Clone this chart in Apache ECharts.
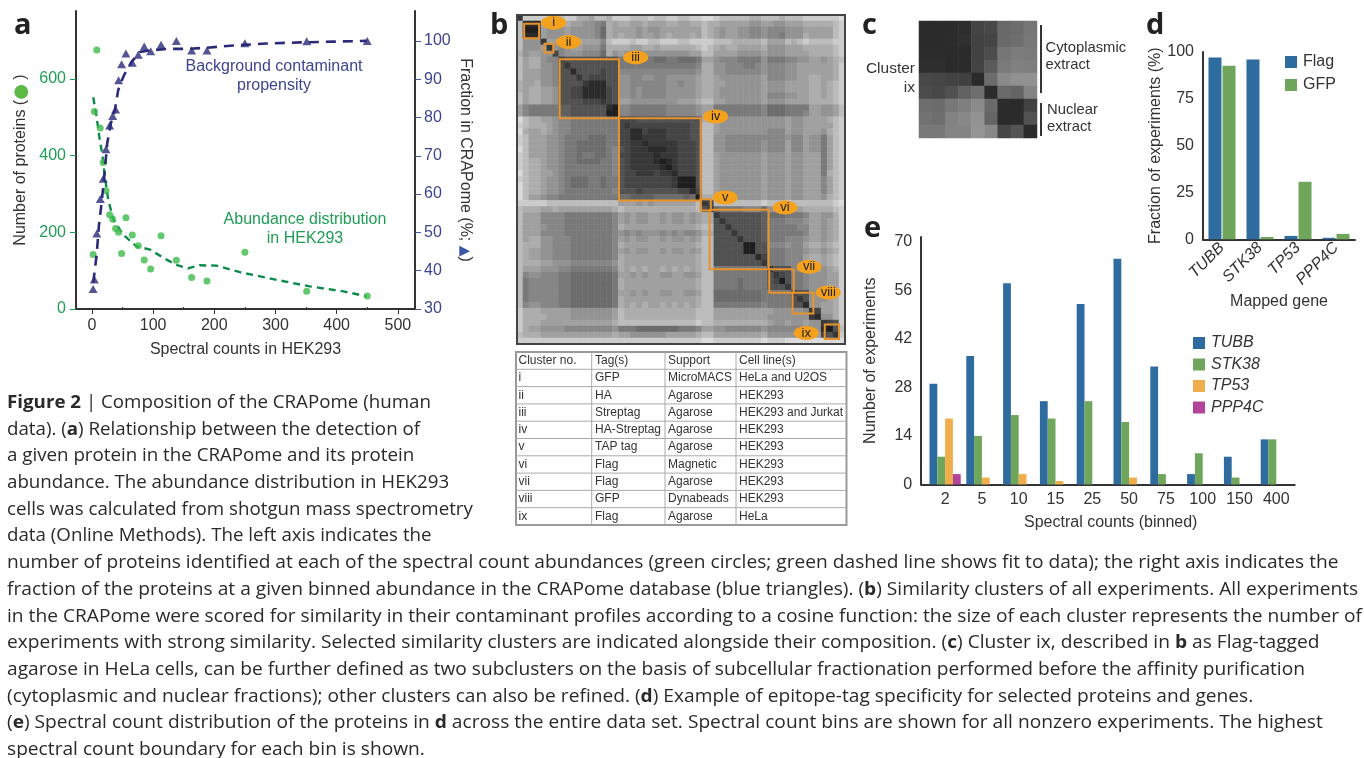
<!DOCTYPE html>
<html><head><meta charset="utf-8">
<style>html,body{margin:0;padding:0;background:#fff}#c{width:1364px;height:758px}</style>
<script src="https://cdn.jsdelivr.net/npm/echarts@6/dist/echarts.min.js"></script>
</head><body><div id="c"></div>
<script>
// Panel a
const spectralX=[2,4,8,13.6,18.5,23,29,34,38.7,43.6,48.5,55.6,66,75.7,85.5,96,113,138,163,188,250,351,450];
const proteinCounts=[142,515,675,472,382,308,246,234,210,200,145,238,193,165,128,104,191,127,82,73,148,46,34];
const crapomePct=[35.2,37.7,49.7,58.7,64,71.7,77.9,80.4,82.1,89.7,93.9,96.7,94.3,96.4,98.5,97.3,99,100,97.5,97.5,99.4,99.9,100];
const greenFit=[[2.2,552],[7.6,502],[12,450],[17.4,398],[21,346],[26.7,285],[35,233],[51,194],[73,163],[95,155],[117,133],[138,115],[157,106],[176,114],[204,113],[242,96],[302,76],[356,59],[411,46],[449,33]];
const blueFit=[[2.2,36.9],[7.6,43.9],[11.4,51.7],[15.8,57.7],[20.2,64.6],[25,73.3],[31,78.5],[37.6,82],[43,87.2],[52.3,91],[64.8,94.5],[78.4,97.1],[94.8,97.5],[122,97.9],[154.7,97.9],[187.4,98.2],[231,98.8],[285,99.3],[340,99.6],[394,99.8],[449,100]];
// Panel b: similarity read by eye, one hex digit per cell (0 light, f dark)
const cellRows=[
"d 222 222 3224453342 22333233223322 11 233333443 3343 332 22 222 1",
"3 eee 455 5455667845 44554555445544 34 455555665 5665 554 44 443 2",
"3 fff 566 6566667945 55565665555555 34 565566776 7776 665 55 553 2",
"3 eee 566 6566667945 45565565455545 34 565566776 7786 664 55 553 2",
"3 666 d55 6544555732 22322332223322 22 333444443 5553 432 33 332 2",
"3 666 5d6 7655666844 44554454444443 23 454455554 6665 554 44 443 2",
"4 655 66c 7666777946 56676666666655 33 555566665 6665 555 44 443 2",
"3 544 677 cbbbbbbbbb 88998899889998 55 677788886 8887 766 55 654 3",
"3 544 667 bdbbbbbbbb 88888888888887 44 667778876 7776 655 55 554 2",
"3 555 667 bbebbbbcbb 77777777777776 44 667777776 7776 655 55 554 2",
"3 555 667 bbbdbcccbb 66776677666665 44 566666665 7776 655 44 554 2",
"4 554 667 bbbbdeeebb 66777777667665 44 556666665 6665 555 44 543 2",
"4 544 556 bbcceeeecb 66767777666665 44 566666665 6665 555 44 543 2",
"3 544 556 bbcceeeecb 66767777666665 44 566666665 7776 655 44 543 2",
"3 544 556 bbbbcccdcb 55666666665554 33 556666665 6665 555 44 443 2",
"5 788 888 aabbbbbbef 77888888777776 55 888888887 9998 888 55 665 3",
"5 788 888 aabbbbbbff 77888888777776 55 888888887 9998 887 55 665 3",
"1 344 556 7788888888 cccbbbbbbbbbbb 44 566666666 6665 665 55 543 2",
"2 344 456 7788888888 cdccccccccccbb 33 566666666 6665 665 55 553 2",
"1 455 456 7788888888 cceecdddccccbb 33 566666666 7775 665 55 643 2",
"2 355 566 7888899988 cceeddddccccbb 33 667777777 7776 775 66 853 2",
"2 355 566 7889999988 ccddedddddcccb 33 667777776 7775 775 66 853 2",
"1 355 566 7889999987 bcdddeeeddcccb 33 667777776 7775 775 66 853 2",
"2 355 566 7889889987 ccddddedddcccb 33 566666665 6665 665 55 853 2",
"2 344 566 7889999887 bcddddefedcccb 33 566666665 6665 665 55 853 2",
"2 344 566 7888888887 bcdddddefdcccb 33 566666665 6665 665 55 853 2",
"1 344 556 7888888887 bccdddcddecccb 33 566666665 6665 665 55 843 2",
"2 344 566 7899988988 bccccccccdfffb 33 566666665 6665 665 55 753 2",
"1 344 566 7899988988 bccccccccdfffb 33 566666665 6665 665 55 753 2",
"1 344 566 7888888887 bbbcbbbbbbccec 33 566666665 6665 665 55 753 2",
"1 355 677 8888888888 99aaaa99999a9f 44 566666665 6665 665 55 643 2",
"2 222 233 3333333333 55565655555553 dc 333333332 3332 333 33 332 1",
"3 444 554 5555555554 34444444444443 bd 988887779 6665 654 44 443 2",
"3 555 777 7888888887 56566556566565 44 dbbbbbbba 9998 887 55 664 2",
"3 555 777 7888888887 56566556566565 44 bdbbbbbba 8887 776 55 654 2",
"3 555 677 7888888887 45555555555554 33 bbdbbbbba 8888 877 55 654 2",
"3 555 777 7888888887 67676667676776 44 bbbdbbbba 8888 887 55 654 2",
"3 544 667 7788888887 56566556566565 33 bbbbdbbba 8887 776 55 654 2",
"3 444 667 7788888887 45555555555554 33 bbbbbffbb 7776 775 44 543 2",
"3 455 667 7788888887 56566556566565 33 bbbbbffbb 8887 776 55 654 2",
"3 455 667 7788888887 45555555555554 33 bbbbbbbec 8887 775 44 543 2",
"3 444 556 6677777776 45555555555554 33 bbbbbbbbd 8887 776 44 543 2",
"3 555 666 7788888887 45454554545454 33 888888888 dbbb 776 55 654 2",
"3 766 777 8899999998 55656556655665 33 888888888 bdcb 887 66 655 2",
"3 877 777 8899999998 45555555555554 33 888898888 bcfb 887 66 655 2",
"3 877 777 8899999998 45555555555554 33 888898888 bbbd 887 66 655 2",
"3 877 777 8899999998 55656556655665 33 999999998 8888 cbb 66 554 2",
"3 877 777 8899999998 45555555555554 33 999999998 8888 bdb 66 654 2",
"3 766 777 8899999998 45454554545454 33 888888887 8888 bbe 66 554 2",
"2 444 555 5566666665 34444444444443 33 555555555 5666 667 dc 554 2",
"2 444 455 5566666665 34444444444443 33 555555555 6666 666 de 664 2",
"2 444 555 5555555554 33333333333332 33 444444444 5665 665 66 dcb 2",
"2 455 666 6777777776 88899999998887 55 667777776 7777 776 66 efb 3",
"3 444 555 5555555554 55666666555554 33 555555554 6666 665 55 cbd 2",
"2 222 222 2222222222 22222222222222 11 222222221 2221 111 11 111 1"];
const clusterBoxes=[[1.2,3.7,1.45,3.9],[4.6,6.1,4.8,6.3],[7.15,17.1,7.4,17.25],[17.1,30.8,17.25,31],[30.8,32.5,30.8,32.7],[32.3,42.2,32.55,42.5],[42.3,46.4,42.5,46.45],[46.2,49.7,46.45,49.9],[51.6,54,51.75,54.15]];
const clusterTags=[[6.14,1.28,"i"],[8.65,4.52,"ii"],[19.9,7.09,"iii"],[33.3,16.97,"iv"],[34.9,30.5,"v"],[44.95,32.2,"vi"],[48.97,42.1,"vii"],[52.2,46.4,"viii"],[48.5,53.15,"ix"]];
const tableRows=[["Cluster no.","Tag(s)","Support","Cell line(s)"],["i","GFP","MicroMACS","HeLa and U2OS"],["ii","HA","Agarose","HEK293"],["iii","Streptag","Agarose","HEK293 and Jurkat"],["iv","HA-Streptag","Agarose","HEK293"],["v","TAP tag","Agarose","HEK293"],["vi","Flag","Magnetic","HEK293"],["vii","Flag","Agarose","HEK293"],["viii","GFP","Dynabeads","HEK293"],["ix","Flag","Agarose","HeLa"]];
// Panel c: grey level per cell
const ixGrey=[
[0x2b,0x2b,0x2b,0x2e,0x44,0x48,0x68,0x6c,0x76],
[0x2b,0x2b,0x2c,0x30,0x42,0x44,0x6a,0x6e,0x78],
[0x2c,0x2c,0x2b,0x2b,0x42,0x4c,0x76,0x7c,0x7a],
[0x2e,0x2e,0x2b,0x2b,0x44,0x5a,0x7a,0x80,0x7e],
[0x48,0x46,0x42,0x40,0x2b,0x6c,0x8a,0x90,0x92],
[0x4c,0x48,0x50,0x62,0x6e,0x2b,0x6a,0x64,0x84],
[0x6e,0x6c,0x78,0x7e,0x8a,0x6a,0x2b,0x2b,0x42],
[0x72,0x6e,0x82,0x88,0x92,0x64,0x2b,0x2b,0x52],
[0x78,0x78,0x84,0x84,0x94,0x88,0x46,0x54,0x2b]];
// Panel d
const genes=["TUBB","STK38","TP53","PPP4C"];
const flagPct=[97,96,1.8,0.8];
const gfpPct=[92.7,1.2,30.7,2.9];
// Panel e
const bins=["2","5","10","15","25","50","75","100","150","400"];
const tubbExp=[29,37,58,24,52,65,34,3,8,13];
const stk38Exp=[8,14,20,19,24,18,3,9,2,13];
const tp53Exp=[19,2,3,1,0,2,0,0,0,0];
const ppp4cExp=[3,0,0,0,0,0,0,0,0,0];
const captionLines=[
"{b|Figure 2} | Composition of the CRAPome (human",
"data). ({b|a}) Relationship between the detection of",
"a given protein in the CRAPome and its protein",
"abundance. The abundance distribution in HEK293",
"cells was calculated from shotgun mass spectrometry",
"data (Online Methods). The left axis indicates the",
"number of proteins identified at each of the spectral count abundances (green circles; green dashed line shows fit to data); the right axis indicates the",
"fraction of the proteins at a given binned abundance in the CRAPome database (blue triangles). ({b|b}) Similarity clusters of all experiments. All experiments",
"in the CRAPome were scored for similarity in their contaminant profiles according to a cosine function: the size of each cluster represents the number of",
"experiments with strong similarity. Selected similarity clusters are indicated alongside their composition. ({b|c}) Cluster ix, described in {b|b} as Flag-tagged",
"agarose in HeLa cells, can be further defined as two subclusters on the basis of subcellular fractionation performed before the affinity purification",
"(cytoplasmic and nuclear fractions); other clusters can also be refined. ({b|d}) Example of epitope-tag specificity for selected proteins and genes.",
"({b|e}) Spectral count distribution of the proteins in {b|d} across the entire data set. Spectral count bins are shown for all nonzero experiments. The highest",
"spectral count boundary for each bin is shown."];

const SANS='"Liberation Sans",Arial,sans-serif', CAP='"Open Sans",sans-serif';
const INK='#333', GRN='#1f9d55', NAVY='#2b2a78', NAVYT='#3d4590', ORANGE='#e8932b';
const BLUEBAR='#2e6b9f', GREENBAR='#6fa65b', ORBAR='#efae4b', MAG='#b4449a';
const zip=(a,b)=>a.map((v,i)=>[v,b[i]]);
const cellB=[];
cellRows.forEach((r,y)=>{r.replace(/ /g,'').split('').forEach((ch,x)=>cellB.push([x,y,parseInt(ch,16)]));});
const cellC=[];
ixGrey.forEach((r,y)=>r.forEach((v,x)=>cellC.push([x,y,v])));
const idx=n=>Array.from({length:n},(_,i)=>String(i));
const al=(c=INK,extra={})=>Object.assign({color:c,fontFamily:SANS,fontSize:16},extra);
const line=(c='#333',w=2)=>({show:true,onZero:false,lineStyle:{color:c,width:w}});

function txt(x,y,text,o={},el={}){return Object.assign({type:'text',x,y,z:50,silent:true,style:Object.assign({text,fill:INK,font:'16px '+SANS,textAlign:'left',textVerticalAlign:'middle'},o)},el);}
function seg(x1,y1,x2,y2,c='#333',w=2){return {type:'line',z:50,silent:true,shape:{x1,y1,x2,y2},style:{stroke:c,lineWidth:w}};}

const g=[];
[['a',14,26],['b',490,26],['c',862,26],['d',1146,26],['e',864,229]].forEach(p=>g.push(txt(p[1],p[2],p[0],{font:'bold 29px "Open Sans",sans-serif',fill:'#222'})));
g.push(txt(274,67,'Background contaminant',{textAlign:'center',fill:NAVYT}));
g.push(txt(274,86,'propensity',{textAlign:'center',fill:NAVYT}));
g.push(txt(305,220,'Abundance distribution',{textAlign:'center',fill:GRN}));
g.push(txt(305,239,'in HEK293',{textAlign:'center',fill:GRN}));
g.push({type:'rect',z:40,silent:true,shape:{x:517,y:15,width:328,height:329},style:{fill:'none',stroke:'#444',lineWidth:2}});
// table
const rowTop=352,rowH=17.3,colX=[516,591.7,665,736,846.5],colT=[518.5,595,668,739];
g.push({type:'rect',z:40,silent:true,shape:{x:516,y:rowTop,width:330.5,height:rowH*10},style:{fill:'none',stroke:'#999',lineWidth:2}});
for(let i=1;i<10;i++)g.push(seg(516,rowTop+rowH*i,846.5,rowTop+rowH*i,'#aaa',1));
for(let i=1;i<4;i++)g.push(seg(colX[i],rowTop,colX[i],rowTop+rowH*10,'#aaa',1));
tableRows.forEach((r,i)=>r.forEach((t,j)=>g.push(txt(colT[j],rowTop+rowH*(i+.5),t,{font:'12px '+SANS}))));
// panel c annotations
g.push(txt(915,69,'Cluster',{textAlign:'right',font:'15.5px '+SANS}));
g.push(txt(915,88,'ix',{textAlign:'right',font:'15.5px '+SANS}));
g.push(seg(1041,25,1041,93));
g.push(seg(1041,103,1041,136));
g.push(txt(1045.5,48,'Cytoplasmic',{font:'14.8px '+SANS}));
g.push(txt(1045.5,65,'extract',{font:'14.8px '+SANS}));
g.push(txt(1047,110,'Nuclear',{font:'14.8px '+SANS}));
g.push(txt(1047,127,'extract',{font:'14.8px '+SANS}));
// axis joins
g.push(seg(920.5,485,927,485));
// caption
captionLines.forEach((t,i)=>g.push(txt(7,403+26.7*i,t,{font:'17.5px '+CAP,fill:'#2a2a2a',rich:{b:{fontFamily:CAP,fontSize:17.5,fontWeight:'bold',fill:'#2a2a2a'}}},{scaleX:i<6?1.07:1.095})));

const option={
 animation:false,backgroundColor:'#fff',
 grid:[
  {left:76,top:11,width:339,height:298},
  {left:1203,top:52,width:152,height:187.3},
  {left:926.7,top:237,width:368,height:247.5},
  {left:517,top:15,width:328,height:329},
  {left:517,top:15,width:328,height:329},
  {left:919,top:21,width:118,height:117}],
 xAxis:[
  {type:'value',gridIndex:0,min:-26,max:528,axisLine:line(),splitLine:{show:false},
   axisTick:{customValues:[0,100,200,300,400,500],length:5,lineStyle:{color:'#333'}},
   axisLabel:{customValues:[0,100,200,300,400,500],margin:9,...al()},
   name:'Spectral counts in HEK293',nameLocation:'middle',nameGap:33,nameTextStyle:al()},
  {type:'value',gridIndex:0,min:-26,max:528,axisLine:{show:false},splitLine:{show:false},
   axisTick:{customValues:[50,150,250,350,450],length:2,lineStyle:{color:'#333'}},axisLabel:{show:false}},
  {type:'category',gridIndex:1,data:genes,axisLine:line(),axisTick:{show:false},
   axisLabel:{rotate:45,interval:0,margin:6,...al(INK,{fontStyle:'italic'})},
   name:'Mapped gene',nameLocation:'middle',nameGap:54,nameTextStyle:al()},
  {type:'category',gridIndex:2,data:bins,axisLine:line(),axisTick:{show:false},
   axisLabel:{interval:0,margin:7,...al()},
   name:'Spectral counts (binned)',nameLocation:'middle',nameGap:30,nameTextStyle:al()},
  {type:'category',gridIndex:3,data:idx(55),show:false},
  {type:'value',gridIndex:4,min:0,max:55,show:false},
  {type:'category',gridIndex:5,data:idx(9),show:false}],
 yAxis:[
  {type:'value',gridIndex:0,min:0,max:777,axisLine:line(),splitLine:{show:false},
   axisTick:{customValues:[0,200,400,600],length:6,lineStyle:{color:GRN}},
   axisLabel:{customValues:[0,200,400,600],margin:10,...al(GRN)},
   name:'{t|Number of proteins (}{c|●}{t| )}',nameLocation:'middle',nameGap:46,
   nameTextStyle:{rich:{t:al(),c:{color:'#5cb947',fontSize:18,fontFamily:'DejaVu Sans'}}}},
  {type:'value',gridIndex:0,position:'right',min:30,max:107.8,axisLine:line(),splitLine:{show:false},
   axisTick:{customValues:[30,40,50,60,70,80,90,100],length:6,lineStyle:{color:'#3f55a5'}},
   axisLabel:{customValues:[30,40,50,60,70,80,90,100],margin:9,...al(NAVYT)},
   name:'{t|Fraction in CRAPome (%; }{c|▲}{t|)}',nameLocation:'middle',nameGap:42,nameRotate:-90,
   nameTextStyle:{rich:{t:al(),c:{color:'#3a55a6',fontSize:14,fontFamily:'DejaVu Sans'}}}},
  {type:'value',gridIndex:1,min:0,max:100,interval:25,axisLine:line(),splitLine:{show:false},
   axisTick:{length:5,lineStyle:{color:'#333'}},axisLabel:{margin:9,...al()},
   name:'Fraction of experiments (%)',nameLocation:'middle',nameGap:39,nameTextStyle:al()},
  {type:'value',gridIndex:2,min:0,max:71.3,offset:5.5,axisLine:line(),splitLine:{show:false},
   axisTick:{customValues:[0,14,28,42,56,70],length:5,lineStyle:{color:'#333'}},
   axisLabel:{customValues:[0,14,28,42,56,70],margin:9,...al()},
   name:'Number of experiments',nameLocation:'middle',nameGap:43,nameTextStyle:al()},
  {type:'category',gridIndex:3,data:idx(55),inverse:true,show:false},
  {type:'value',gridIndex:4,min:0,max:55,inverse:true,show:false},
  {type:'category',gridIndex:5,data:idx(9),inverse:true,show:false}],
 legend:[
  {data:['Flag','GFP'],left:1280,top:49,orient:'vertical',icon:'rect',itemWidth:12,itemHeight:12,itemGap:7,selectedMode:false,textStyle:al(INK,{padding:[0,0,0,1]})},
  {data:['TUBB','STK38','TP53','PPP4C'],left:1188,top:330,orient:'vertical',icon:'rect',itemWidth:12,itemHeight:12,itemGap:5.5,selectedMode:false,textStyle:al(INK,{fontStyle:'italic',padding:[0,0,0,1]})}],
 visualMap:[
  {show:false,type:'continuous',seriesIndex:4,dimension:2,min:0,max:15,inRange:{color:['#ebebeb','#b0b0b0','#808080','#4f4f4f','#1e1e1e']}},
  {show:false,type:'continuous',seriesIndex:7,dimension:2,min:0,max:255,inRange:{color:['#000000','#ffffff']}}],
 series:[
  {type:'line',xAxisIndex:0,yAxisIndex:0,data:greenFit,symbol:'none',z:3,lineStyle:{color:'#0e8a4c',width:2.4,type:[7,5]}},
  {type:'scatter',xAxisIndex:0,yAxisIndex:0,data:zip(spectralX,proteinCounts),symbol:'circle',symbolSize:7,z:4,itemStyle:{color:'#3dba4a'}},
  {type:'line',xAxisIndex:0,yAxisIndex:1,data:blueFit,symbol:'none',z:5,lineStyle:{color:NAVY,width:2.6,type:[10,7]}},
  {type:'scatter',xAxisIndex:0,yAxisIndex:1,data:zip(spectralX,crapomePct),symbol:'triangle',symbolSize:[9,8],z:6,itemStyle:{color:NAVY}},
  {type:'heatmap',xAxisIndex:4,yAxisIndex:4,data:cellB,progressive:0,silent:true},
  {type:'custom',xAxisIndex:5,yAxisIndex:5,data:clusterBoxes,clip:false,z:10,silent:true,encode:{x:[0,1],y:[2,3]},
   renderItem:(p,api)=>{const a=api.coord([api.value(0),api.value(2)]),b=api.coord([api.value(1),api.value(3)]);
    return {type:'rect',shape:{x:a[0],y:a[1],width:b[0]-a[0],height:b[1]-a[1]},style:{fill:'none',stroke:ORANGE,lineWidth:2}};}},
  {type:'scatter',xAxisIndex:5,yAxisIndex:5,data:clusterTags,symbol:'circle',symbolSize:[25,14],z:11,silent:true,itemStyle:{color:'#f4a21e',opacity:1},
   label:{show:true,position:'inside',formatter:p=>p.value[2],color:'#222',fontFamily:SANS,fontSize:13}},
  {type:'heatmap',xAxisIndex:6,yAxisIndex:6,data:cellC,progressive:0,silent:true},
  {type:'bar',name:'Flag',xAxisIndex:2,yAxisIndex:2,data:flagPct,barWidth:13,barGap:'8%',itemStyle:{color:BLUEBAR}},
  {type:'bar',name:'GFP',xAxisIndex:2,yAxisIndex:2,data:gfpPct,barWidth:13,itemStyle:{color:GREENBAR}},
  {type:'bar',name:'TUBB',xAxisIndex:3,yAxisIndex:3,data:tubbExp,barWidth:7.8,barGap:0,itemStyle:{color:BLUEBAR}},
  {type:'bar',name:'STK38',xAxisIndex:3,yAxisIndex:3,data:stk38Exp,barWidth:7.8,itemStyle:{color:GREENBAR}},
  {type:'bar',name:'TP53',xAxisIndex:3,yAxisIndex:3,data:tp53Exp,barWidth:7.8,itemStyle:{color:ORBAR}},
  {type:'bar',name:'PPP4C',xAxisIndex:3,yAxisIndex:3,data:ppp4cExp,barWidth:7.8,itemStyle:{color:MAG}}
 ],
 graphic:{elements:g}
};
echarts.init(document.getElementById('c'),null,{renderer:'canvas'}).setOption(option);
</script></body></html>
